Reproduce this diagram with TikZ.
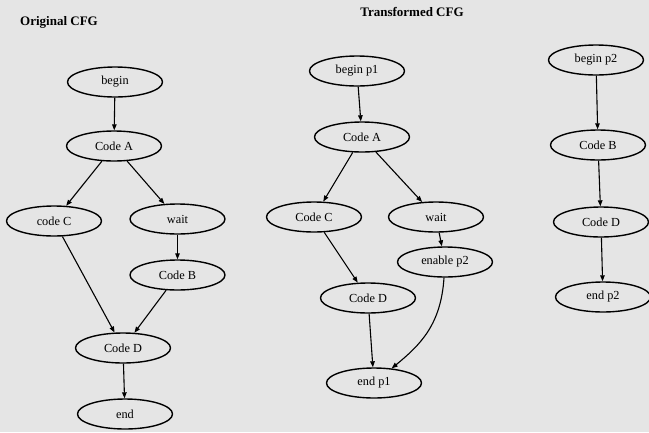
\documentclass[tikz,border=0pt]{standalone}
\usepackage{fontspec}
\setmainfont{Liberation Serif}
\usetikzlibrary{arrows.meta,shapes.geometric}
\begin{document}
\begin{tikzpicture}[x=1pt,y=-1pt,
  blk/.style={ellipse,draw=black,line width=1.4pt,minimum width=95pt,minimum height=30pt,inner sep=0pt,font=\fontsize{12.3}{13}\selectfont},
  edge/.style={draw=black,line width=1.1pt,-{Triangle[length=6pt,width=4.5pt]}},
  ttl/.style={font=\fontsize{13}{14}\selectfont\bfseries}]
\fill[black!10] (0,0) rectangle (649,432);
\useasboundingbox (0,0) rectangle (649,432);

% original control flow graph
\node[ttl] (t1) at (59,22) {Original CFG};
\node[blk] (ob) at (115,82) {begin};
\node[blk] (oa) at (114,146) {Code A};
\node[blk] (oc) at (54,221) {code C};
\node[blk] (ow) at (177.5,219) {wait};
\node[blk] (obb) at (177.5,275) {Code B};
\node[blk] (od) at (123,348) {Code D};
\node[blk] (oe) at (125,414) {end};
\draw[edge] (ob) -- (oa);
\draw[edge] (oa) -- (oc);
\draw[edge] (oa) -- (ow);
\draw[edge] (ow) -- (obb);
\draw[edge] (oc) -- (od);
\draw[edge] (obb) -- (od);
\draw[edge] (od) -- (oe);

% transformed graph, process p1
\node[ttl] (t2) at (412,12) {Transformed CFG};
\node[blk] (b1) at (357,71) {begin p1};
\node[blk] (a1) at (362,137) {Code A};
\node[blk] (c1) at (314,217) {Code C};
\node[blk] (w1) at (436,217) {wait};
\node[blk] (en) at (445,262) {enable p2};
\node[blk] (d1) at (368,298) {Code D};
\node[blk] (e1) at (374,383) {end  p1};
\draw[edge] (b1) -- (a1);
\draw[edge] (a1) -- (c1);
\draw[edge] (a1) -- (w1);
\draw[edge] (w1) -- (en);
\draw[edge] (c1) -- (d1);
\draw[edge] (d1) -- (e1);
\draw[edge] (en) .. controls (441,325) and (420,345) .. (e1);

% transformed graph, process p2
\node[blk] (b2) at (596,60) {begin p2};
\node[blk] (bb2) at (598,145) {Code B};
\node[blk] (d2) at (601,222) {Code D};
\node[blk] (e2) at (603,297) {end p2};
\draw[edge] (b2) -- (bb2);
\draw[edge] (bb2) -- (d2);
\draw[edge] (d2) -- (e2);
\end{tikzpicture}
\end{document}
